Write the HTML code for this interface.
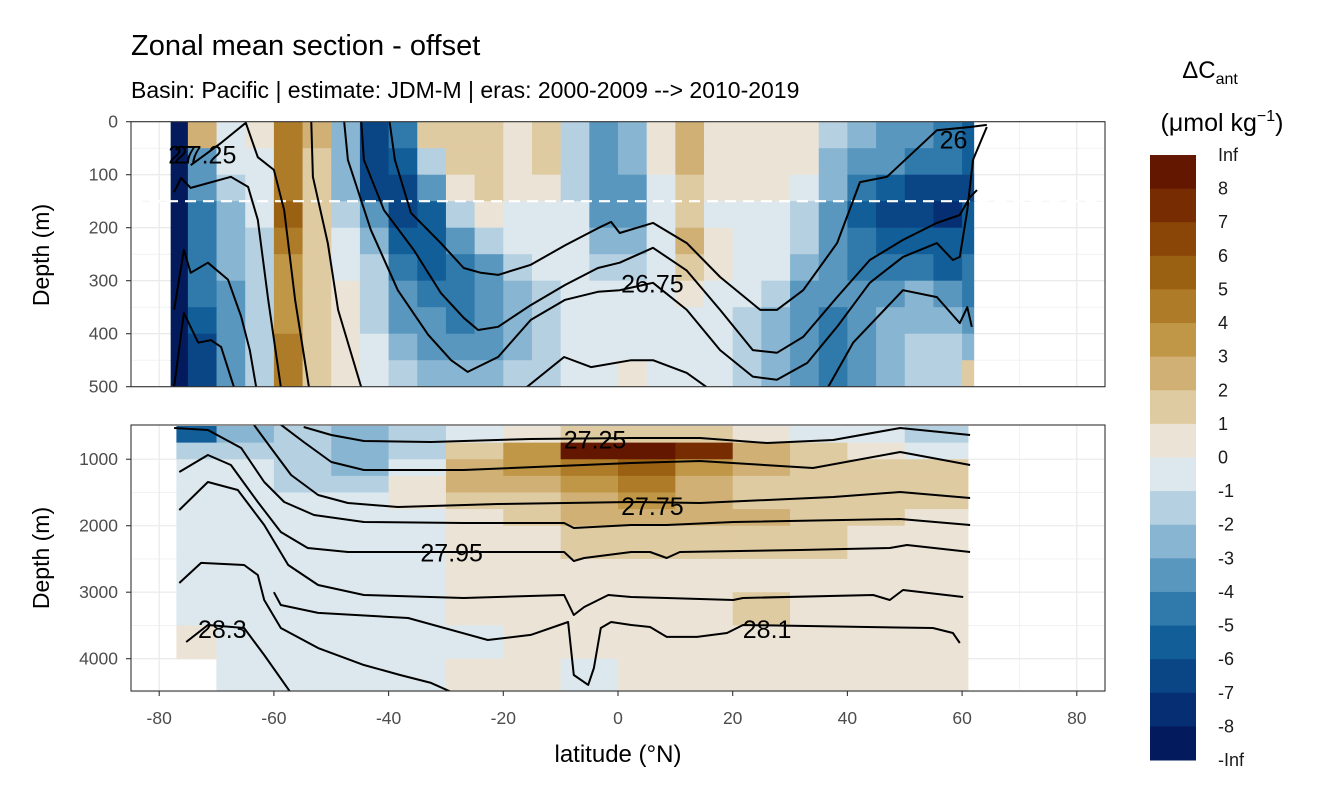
<!DOCTYPE html>
<html><head><meta charset="utf-8">
<style>
html,body{margin:0;padding:0;background:#fff;}
svg{display:block;font-family:"Liberation Sans",sans-serif;}
</style></head>
<body>
<svg id="chart" width="1344" height="806" viewBox="0 0 1344 806" xmlns="http://www.w3.org/2000/svg">
  <text x="131" y="55" font-size="29" fill="#000">Zonal mean section - offset</text>
  <text x="131" y="98" font-size="23" fill="#000">Basin: Pacific | estimate: JDM-M | eras: 2000-2009 --&gt; 2010-2019</text>
  <defs>
    <clipPath id="clipTop"><rect x="131" y="121.7" width="974" height="265"/></clipPath>
    <clipPath id="clipBot"><rect x="131" y="425" width="974" height="266"/></clipPath>
  </defs>
  <g id="gridTop"></g>
  <g id="gridBot"></g>
  <g id="fillTop" clip-path="url(#clipTop)"></g>
  <g id="fillBot" clip-path="url(#clipBot)"></g>
  <line x1="131" x2="1105" y1="201.2" y2="201.2" stroke="#fff" stroke-width="2.2" stroke-dasharray="11,7"/>
  <g id="contTop" clip-path="url(#clipTop)"></g>
  <g id="contBot" clip-path="url(#clipBot)"></g>
  <g id="labels" font-size="25" fill="#000"></g>
  <rect x="131" y="121.7" width="974" height="265" fill="none" stroke="#333" stroke-width="1.1"/>
  <rect x="131" y="425" width="974" height="266" fill="none" stroke="#333" stroke-width="1.1"/>
  <g id="axes"></g>
  <text transform="translate(49,255) rotate(-90)" text-anchor="middle" font-size="23">Depth (m)</text>
  <text transform="translate(49,558) rotate(-90)" text-anchor="middle" font-size="23">Depth (m)</text>
  <text x="618" y="762" text-anchor="middle" font-size="24">latitude (°N)</text>
  <text x="1210" y="78" text-anchor="middle" font-size="24">ΔC<tspan font-size="16" dy="6">ant</tspan></text>
  <text x="1222" y="131" text-anchor="middle" font-size="25">(μmol kg<tspan font-size="16" dy="-10">−1</tspan><tspan dy="10">)</tspan></text>
  <g id="legend"></g>
</svg>
<script>
// ---------- data ----------
const binColors = ["#631600","#772c02","#8a4607","#9b6113","#ae7c28","#c09747","#d0b074","#dfcba2","#ebe4d6",
                   "#dce8ee","#b5d0e1","#88b5d1","#5a97bf","#3079ab","#125e98","#0a4686","#062e73","#031b5d"];
const legendLabels = ["Inf","8","7","6","5","4","3","2","1","0","-1","-2","-3","-4","-5","-6","-7","-8","-Inf"];
const xTicks = [-80,-60,-40,-20,0,20,40,60,80];
const topYTicks = [0,100,200,300,400,500];
const botYTicks = [1000,2000,3000,4000];

const topLats = [-78,-75,-70,-65,-60,-55,-50,-45,-40,-35,-30,-25,-20,-15,-10,-5,0,5,10,15,20,25,30,35,40,45,50,55,60,62];
const topDepths = [0,50,100,150,200,250,300,350,400,450,500];
const topValues = [
 [-9,2.5,-1,0.5,4.5,2.5,-2.5,-6.5,-4.5,1.5,1.5,1.5,0.5,1.5,-1.5,-3.5,-2.5,0.5,2.5,0.5,0.5,0.5,0.5,-1.5,-2.5,-3.5,-3.5,-4.5,-5.5],
 [-9,-3.5,-1,-0.5,4.5,1.5,-2.5,-6.5,-5.5,-1.5,1.5,1.5,0.5,1.5,-1.5,-3.5,-2.5,0.5,2.5,0.5,0.5,0.5,0.5,-2.5,-3.5,-3.5,-4.5,-4.5,-5.5],
 [-9,-3.5,-1.5,-0.5,4.5,1.5,-2.5,-6.5,-6.5,-3.5,0.5,1.5,0.5,0.5,-1.5,-3.5,-3.5,-0.5,1.5,0.5,0.5,0.5,-0.5,-2.5,-4.5,-5.5,-6.5,-6.5,-6.5],
 [-9,-4.5,-2.5,-0.5,5.5,1.5,-1.5,-3.5,-6.5,-5.5,-1.5,0.5,-0.5,-0.5,-0.5,-3.5,-3.5,-0.5,1.5,-0.5,-0.5,-0.5,-1.5,-3.5,-5.5,-6.5,-6.5,-7.5,-5.5],
 [-9,-4.5,-2.5,-1.5,4.5,1.5,-0.5,-2.5,-5.5,-5.5,-3.5,-1.5,-0.5,-0.5,-0.5,-2.5,-2.5,-0.5,2.5,0.5,-0.5,-0.5,-1.5,-3.5,-4.5,-5.5,-5.5,-5.5,-5.5],
 [-9,-4.5,-2.5,-1.5,3.5,1.5,-0.5,-1.5,-4.5,-5.5,-4.5,-3.5,-1.5,-0.5,-0.5,-1.5,-1.5,-0.5,1.5,0.5,-0.5,-0.5,-2.5,-3.5,-4.5,-4.5,-4.5,-5.5,-4.5],
 [-9,-4.5,-3.5,-1.5,3.5,1.5,0.5,-1.5,-3.5,-4.5,-4.5,-3.5,-2.5,-1.5,-0.5,-0.5,-0.5,-0.5,0.5,-0.5,-0.5,-1.5,-3.5,-3.5,-3.5,-3.5,-2.5,-3.5,-4.5],
 [-9,-5.5,-3.5,-1.5,3.5,1.5,0.5,-1.5,-3.5,-3.5,-4.5,-3.5,-2.5,-1.5,-0.5,-0.5,-0.5,-0.5,-0.5,-0.5,-1.5,-2.5,-3.5,-4.5,-3.5,-2.5,-2.5,-2.5,-3.5],
 [-9,-6.5,-3.5,-1.5,4.5,1.5,0.5,-0.5,-2.5,-3.5,-3.5,-3.5,-2.5,-1.5,-0.5,-0.5,-0.5,-0.5,-0.5,-0.5,-1.5,-2.5,-3.5,-4.5,-3.5,-2.5,-1.5,-1.5,-2.5],
 [-9,-6.5,-3.5,-1.5,4.5,1.5,0.5,-0.5,-1.5,-2.5,-2.5,-2.5,-1.5,-1.5,-0.5,-0.5,0.5,-0.5,-0.5,-0.5,-1.5,-2.5,-3.5,-4.5,-3.5,-2.5,-1.5,-1.5,1.5]
];

const botLats = [-77,-70,-60,-50,-40,-30,-20,-10,0,10,20,30,40,50,61];
const botDepths = [500,750,1000,1250,1500,1750,2000,2500,3000,3500,4000,4500];
const botValues = [
 [-5.5,-2.5,-1.5,-2.5,-1.5,-0.5,0.5,1.5,1.5,1.5,0.5,-0.5,-0.5,-1.5],
 [-1.5,-1.5,-1.5,-2.5,-1.5,1.5,3.5,8.5,8.5,7.5,2.5,1.5,0.5,-0.5],
 [-0.5,-0.5,-1.5,-2.5,-0.5,2.5,3.5,4.5,5.5,3.5,2.5,1.5,1.5,1.5],
 [-0.5,-0.5,-1.5,-1.5,0.5,2.5,2.5,3.5,4.5,2.5,1.5,1.5,1.5,1.5],
 [-0.5,-0.5,-0.5,-0.5,0.5,1.5,1.5,2.5,3.5,2.5,1.5,1.5,1.5,1.5],
 [-0.5,-0.5,-0.5,-0.5,-0.5,0.5,1.5,2.5,2.5,2.5,2.5,1.5,1.5,0.5],
 [-0.5,-0.5,-0.5,-0.5,-0.5,0.5,0.5,1.5,1.5,1.5,1.5,1.5,0.5,0.5],
 [-0.5,-0.5,-0.5,-0.5,-0.5,0.5,0.5,0.5,0.5,0.5,0.5,0.5,0.5,0.5],
 [-0.5,-0.5,-0.5,-0.5,-0.5,0.5,0.5,0.5,0.5,0.5,1.5,0.5,0.5,0.5],
 [0.5,-0.5,-0.5,-0.5,-0.5,-0.5,0.5,0.5,0.5,0.5,0.5,0.5,0.5,0.5],
 [null,-0.5,-0.5,-0.5,-0.5,0.5,0.5,-0.5,0.5,0.5,0.5,0.5,0.5,0.5]
];

// contour lines: [lat, depth] pairs
const topContours = [
 [[-77.4,133],[-76.2,106],[-74.5,125],[-67.5,104],[-64.5,123],[-62.8,185],[-61.0,336],[-58.8,500]],
 [[-77.4,355],[-75.7,242],[-74.5,285],[-71.5,266],[-68.0,298],[-65.7,368],[-64.2,431],[-63.1,500]],
 [[-77.4,500],[-75.7,361],[-73.2,417],[-71.0,412],[-69.2,425],[-67.0,500]],
 [[-74.5,82],[-69.2,40],[-64.9,2],[-62.8,67],[-60.0,91],[-58.2,167],[-56.3,336],[-53.9,500]],
 [[-53.5,-5],[-53.2,104],[-50.6,229],[-48.8,355],[-44.8,500]],
 [[-47.8,-5],[-47.1,72],[-43.1,204],[-38.4,318],[-33.1,402],[-29.1,450],[-26.2,472],[-20.9,444],[-15.2,374],[-9.2,336],[-3.5,321],[0.3,318],[6.1,304],[12.0,355],[17.8,431],[23.5,481],[27.7,487],[33.0,455],[38.2,387],[43.9,304],[49.7,255],[55.6,229],[58.4,261],[59.6,255],[60.9,167],[61.9,72],[64.3,10]],
 [[-44.8,-5],[-44.3,72],[-40.8,167],[-35.6,242],[-30.9,323],[-26.9,370],[-24.4,393],[-20.9,387],[-15.2,346],[-9.2,308],[-3.5,276],[0.3,266],[6.1,238],[12.0,281],[17.8,355],[23.5,431],[27.7,436],[32.3,406],[38.2,331],[43.9,261],[49.7,223],[55.6,191],[59.6,176],[61.4,142],[62.6,129]],
 [[-39.9,-5],[-38.9,72],[-36.1,172],[-30.9,229],[-26.9,276],[-23.9,285],[-20.9,289],[-15.2,270],[-9.2,233],[-3.5,201],[-1.2,189],[0.3,210],[6.1,191],[12.0,229],[17.8,293],[24.8,355],[27.7,355],[32.3,318],[38.2,229],[42.2,114],[46.9,104],[55.6,16],[61.4,10],[64.3,6]],
 [[-16.4,505],[-9.4,444],[-4.7,463],[2.3,450],[6.1,450],[12.0,474],[16.0,505]],
 [[36.4,505],[41.0,417],[49.7,318],[55.6,331],[59.6,380],[60.9,350],[61.7,387]]
];
const botContours = [
 [[-54.8,515],[-50.0,635],[-44.3,726],[-32.6,741],[-15.2,696],[2.3,680],[14.3,680],[26.0,756],[37.5,711],[49.2,530],[61.4,635]],
 [[-58.8,480],[-54.8,741],[-50.0,1041],[-44.3,1162],[-26.9,1162],[2.3,1056],[14.3,1026],[34.0,1132],[49.2,891],[61.4,1087]],
 [[-63.5,480],[-60.5,831],[-57.0,1237],[-52.3,1538],[-47.1,1658],[-38.4,1718],[-20.9,1673],[2.3,1643],[14.3,1658],[37.5,1568],[49.2,1493],[61.4,1583]],
 [[-77.4,530],[-71.5,560],[-65.7,831],[-61.7,1342],[-58.2,1643],[-53.0,1839],[-44.3,1944],[-26.9,1959],[-9.4,1959],[-7.7,2034],[2.3,1989],[8.5,1989],[20.1,1944],[49.2,1899],[61.4,1989]],
 [[-76.5,1192],[-71.5,936],[-67.5,1087],[-62.8,1643],[-58.8,2094],[-54.1,2335],[-47.1,2395],[-9.4,2395],[-7.7,2530],[-5.9,2485],[2.3,2395],[5.6,2395],[8.5,2485],[10.8,2395],[31.7,2365],[47.4,2335],[50.4,2290],[61.4,2395]],
 [[-76.5,1763],[-71.5,1342],[-66.3,1463],[-61.7,1989],[-57.5,2591],[-52.3,2891],[-44.3,3042],[-26.9,3087],[-9.4,3042],[-7.7,3343],[-5.9,3222],[-1.7,3042],[2.3,3072],[8.5,3087],[20.1,3117],[21.8,3087],[44.5,3042],[47.4,3117],[49.7,2967],[60.2,3072]],
 [[-60.0,3000],[-58.8,3192],[-52.3,3312],[-36.6,3388],[-22.7,3719],[-15.2,3643],[-8.7,3448],[-7.7,4245],[-5.2,4395],[-4.2,4140],[-3.0,3538],[-1.2,3448],[2.3,3493],[5.6,3523],[8.5,3673],[13.8,3673],[19.0,3613],[21.8,3493],[43.4,3523],[54.9,3538],[58.4,3613],[59.6,3764]],
 [[-76.5,2861],[-72.7,2560],[-65.2,2591],[-62.8,2741],[-61.7,3117],[-58.8,3538],[-52.3,3839],[-44.3,4095],[-38.0,4245],[-32.6,4365],[-28.6,4520]],
 [[-75.3,3749],[-71.5,3493],[-65.2,3538],[-61.7,3944],[-57.0,4520]]
];
const contourLabels = [
 {text:"27", lat:-76, depth:62, panel:"top"},
 {text:"27.25", lat:-72, depth:62, panel:"top"},
 {text:"26", lat:58.5, depth:34, panel:"top"},
 {text:"26.75", lat:6, depth:305, panel:"top"},
 {text:"27.25", lat:-4, depth:700, panel:"bot"},
 {text:"27.75", lat:6, depth:1700, panel:"bot"},
 {text:"27.95", lat:-29, depth:2400, panel:"bot"},
 {text:"28.3", lat:-69, depth:3550, panel:"bot"},
 {text:"28.1", lat:26, depth:3550, panel:"bot"}
];

// ---------- scales ----------
const X0=618, XK=5.735;
const xs = lat => X0 + lat*XK;
const yTop = d => 121.7 + d*0.53;
const yBot = d => 426 + (d-500)*0.06648;
const NS="http://www.w3.org/2000/svg";
function mk(tag, attrs, parent){const e=document.createElementNS(NS,tag);for(const k in attrs)e.setAttribute(k,attrs[k]);parent.appendChild(e);return e;}
function binIndex(v){return Math.max(0,Math.min(17,8-Math.floor(v)));}

function grid(g, yf, majors, minors, y0, y1){
  for(let lat=-90;lat<=90;lat+=10){
    const x=xs(lat); if(x<131||x>1105) continue;
    const l=mk('line',{x1:x,x2:x,y1:y0,y2:y1,stroke:'#ebebeb','stroke-width':lat%20===0?1.3:0.6},g);
    
    
  }
  majors.concat(minors).forEach((d,i)=>{
    const y=yf(d);
    const l=mk('line',{x1:131,x2:1105,y1:y,y2:y,stroke:'#ebebeb','stroke-width':i<majors.length?1.3:0.6},g);
    
    
  });
}
grid(document.getElementById('gridTop'), yTop, topYTicks, [50,150,250,350,450], 121.7, 386.7);
grid(document.getElementById('gridBot'), yBot, botYTicks, [1500,2500,3500,4500], 425, 691);

function fills(g, lats, depths, vals, yf){
  for(let r=0;r<vals.length;r++)for(let c=0;c<vals[r].length;c++){
    const v=vals[r][c]; if(v===null) continue;
    const x1=xs(lats[c]), x2=xs(lats[c+1]), y1=yf(depths[r]), y2=yf(depths[r+1]);
    const rc=mk('rect',{x:x1,y:y1,width:x2-x1+0.6,height:y2-y1+0.6,fill:binColors[binIndex(v)]},g);
    
    
  }
}
fills(document.getElementById('fillTop'), topLats, topDepths, topValues, yTop);
fills(document.getElementById('fillBot'), botLats, botDepths, botValues, yBot);

function contours(g, lines, yf){
  lines.forEach(pts=>{
    const p=mk('polyline',{points:pts.map(q=>xs(q[0]).toFixed(1)+','+yf(q[1]).toFixed(1)).join(' '),fill:'none',stroke:'#000','stroke-width':2,'stroke-linejoin':'round'},g);
    
    
  });
}
contours(document.getElementById('contTop'), topContours, yTop);
contours(document.getElementById('contBot'), botContours, yBot);

const lg=document.getElementById('labels');
contourLabels.forEach(L=>{
  const t=mk('text',{x:xs(L.lat),y:(L.panel==='top'?yTop(L.depth):yBot(L.depth))+9,'text-anchor':'middle'},lg);
  t.textContent=L.text;
  
  
});

const ax=document.getElementById('axes');
xTicks.forEach(v=>{
  const x=xs(v);
  const tk=mk('line',{x1:x,x2:x,y1:691,y2:696,stroke:'#333','stroke-width':1.1},ax);
  
  
  const t=mk('text',{x:x,y:724,'text-anchor':'middle','font-size':17.5,fill:'#4d4d4d'},ax);
  t.textContent=v;
  
  
});
function yAxis(ticks, yf){
  ticks.forEach(v=>{
    const y=yf(v);
    const tk=mk('line',{x1:126,x2:131,y1:y,y2:y,stroke:'#333','stroke-width':1.1},ax);
    
    
    const t=mk('text',{x:118,y:y+6,'text-anchor':'end','font-size':17.5,fill:'#4d4d4d'},ax);
    t.textContent=v;
    
    
  });
}
yAxis(topYTicks, yTop);
yAxis(botYTicks, yBot);

const leg=document.getElementById('legend');
const L0=155, L1=760, step=(L1-L0)/binColors.length;
binColors.forEach((c,i)=>{
  const r=mk('rect',{x:1150,y:L0+i*step,width:46,height:step+0.5,fill:c},leg);
  
  
});
legendLabels.forEach((s,i)=>{
  const t=mk('text',{x:1218,y:L0+i*step+6,'font-size':18,fill:'#1a1a1a'},leg);
  t.textContent=s;
  
  
});
</script>
</body></html>
